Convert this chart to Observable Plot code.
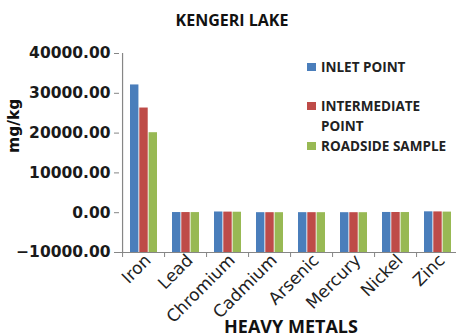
<!DOCTYPE html>
<html>
<head>
<meta charset="utf-8">
<script src="https://cdn.jsdelivr.net/npm/d3@7"></script>
<script src="https://cdn.jsdelivr.net/npm/@observablehq/plot@0.6"></script>
<style>
  body { margin: 0; background: #fff; }
  #wrap { position: relative; width: 456px; height: 336px; overflow: hidden; background: #fff; }
  #title { position: absolute; left: 0; top: 9px; width: 464px; text-align: center;
           font: 700 16px "Open Sans", sans-serif; color: #111; }
  .lg { position: absolute; left: 321px; width: 140px; font: 700 13.5px/20px "Open Sans", sans-serif; color: #222; }
  .sw { position: absolute; left: 307px; width: 9px; height: 8px; }
</style>
</head>
<body>
<div id="wrap">
  <div id="title"></div>
</div>
<script>
// ---- data ----
const chartTitle = "KENGERI LAKE";
const xTitle = "HEAVY METALS";
const yTitle = "mg/kg";
const metals = ["Iron", "Lead", "Chromium", "Cadmium", "Arsenic", "Mercury", "Nickel", "Zinc"];
const seriesNames = ["INLET POINT", "INTERMEDIATE POINT", "ROADSIDE SAMPLE"];
const inlet        = [32100, 40, 180, 5, 10, 1, 60, 220];
const intermediate = [26300, 35, 150, 4, 8, 1, 50, 200];
const roadside     = [20100, 30, 120, 3, 6, 1, 40, 150];
const yTicks = [-10000, 0, 10000, 20000, 30000, 40000];
const axisBase = -10000;

// ---- styling / layout ----
const colors = ["#4a7ebb", "#be4b48", "#98b954"];
const W = 456, H = 336, mL = 119, mR = -6, mT = 53, mB = 84;
const step = (W - mL - mR) / metals.length;
const padIn = 0.35;
const barW = step * (1 - padIn) / 3;
const axisGray = "#868686";

const seriesVals = [inlet, intermediate, roadside];

const barMarks = seriesVals.map((vals, k) =>
  Plot.barY(metals.map((m, i) => ({metal: m, v: vals[i], base: axisBase})), {
    x: "metal", y1: "base", y2: "v", fill: colors[k],
    insetLeft: k * barW, insetRight: (2 - k) * barW
  })
);

const chart = Plot.plot({
  width: W, height: H,
  marginLeft: mL, marginRight: mR, marginTop: mT, marginBottom: mB,
  style: {background: "transparent", overflow: "visible"},
  x: {type: "band", domain: metals, paddingInner: padIn, paddingOuter: padIn / 2, align: 0.5},
  y: {domain: [axisBase, 40000]},
  marks: [
    ...barMarks,
    Plot.ruleY([axisBase], {stroke: axisGray, strokeWidth: 1.2}),
    Plot.ruleX([metals[0]], {dx: -step / 2, stroke: axisGray, strokeWidth: 1.2}),
    Plot.axisX({tickSize: 5, tickFormat: () => "", dx: -step / 2, stroke: axisGray, label: null}),
    Plot.axisX({tickSize: 0, tickRotate: -45, tickPadding: 0, dx: 4, dy: 5, label: null,
                fontSize: 17, fontFamily: "DejaVu Sans", fill: "#222"}),
    Plot.axisY({ticks: yTicks, tickFormat: d3.format(".2f"), tickSize: 5, tickPadding: 4,
                stroke: axisGray, fill: "#1a1a1a", fontSize: 15.5, fontWeight: "bold",
                fontFamily: "DejaVu Sans", label: null}),
    Plot.text([yTitle], {frameAnchor: "left", rotate: -90, dx: -105, dy: 0,
                fontSize: 15.5, fontWeight: "bold", fontFamily: "DejaVu Sans", fill: "#111"}),
    Plot.text([xTitle], {frameAnchor: "bottom", dy: 75, fontSize: 18, fontWeight: "bold",
                fontFamily: "Open Sans", fill: "#111", lineAnchor: "middle"})
  ]
});
chart.style.position = "absolute";
chart.style.left = "0px";
chart.style.top = "0px";
const wrap = document.getElementById("wrap");
wrap.insertBefore(chart, wrap.firstChild);
document.getElementById("title").textContent = chartTitle;

// legend
const legendTops = [57, 96, 136];
const swatchTops = [63, 102, 142];
seriesNames.forEach((name, k) => {
  const sw = document.createElement("div");
  sw.className = "sw";
  sw.style.top = swatchTops[k] + "px";
  sw.style.background = colors[k];
  wrap.appendChild(sw);
  const t = document.createElement("div");
  t.className = "lg";
  t.style.top = legendTops[k] + "px";
  t.textContent = name;
  wrap.appendChild(t);
});
</script>
</body>
</html>
